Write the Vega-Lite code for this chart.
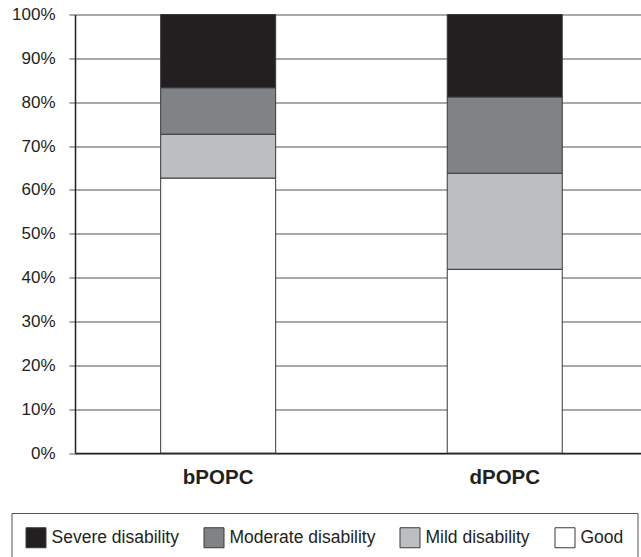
{
  "$schema": "https://vega.github.io/schema/vega-lite/v6.json",
  "autosize": {"type": "none"},
  "padding": {"left": 75, "top": 14.5, "right": 0, "bottom": 104},
  "width": 566,
  "height": 438.5,
  "background": "white",
  "config": {
    "view": {"stroke": null},
    "font": "Liberation Sans"
  },
  "data": {
    "values": [
      {"group": "bPOPC", "outcome": "Good", "percent": 62.7},
      {"group": "bPOPC", "outcome": "Mild disability", "percent": 10.0},
      {"group": "bPOPC", "outcome": "Moderate disability", "percent": 10.6},
      {"group": "bPOPC", "outcome": "Severe disability", "percent": 16.7},
      {"group": "dPOPC", "outcome": "Good", "percent": 41.9},
      {"group": "dPOPC", "outcome": "Mild disability", "percent": 21.9},
      {"group": "dPOPC", "outcome": "Moderate disability", "percent": 17.4},
      {"group": "dPOPC", "outcome": "Severe disability", "percent": 18.8}
    ]
  },
  "mark": {"type": "bar", "stroke": "#3a3a3a", "strokeWidth": 1},
  "encoding": {
    "x": {
      "field": "group",
      "type": "nominal",
      "title": null,
      "scale": {"paddingInner": 0.5987, "paddingOuter": 0.2868, "align": 0.521},
      "axis": {
        "labelAngle": 0,
        "ticks": false,
        "labelPadding": 14,
        "labelFont": "Liberation Sans",
        "labelFontSize": 20.5,
        "labelFontWeight": "bold",
        "labelColor": "#231f20",
        "domainColor": "#231f20",
        "domainWidth": 1.5
      }
    },
    "y": {
      "field": "percent",
      "type": "quantitative",
      "stack": "zero",
      "title": null,
      "scale": {"domain": [0, 100], "nice": false},
      "axis": {
        "values": [0, 10, 20, 30, 40, 50, 60, 70, 80, 90, 100],
        "labelExpr": "datum.value + '%'",
        "labelFont": "Liberation Sans",
        "labelFontSize": 17,
        "labelColor": "#231f20",
        "labelPadding": 14,
        "tickSize": 6,
        "tickColor": "#555555",
        "tickWidth": 1,
        "grid": true,
        "gridColor": "#555555",
        "gridWidth": 1,
        "gridOpacity": 1,
        "domainColor": "#231f20",
        "domainWidth": 1.5
      }
    },
    "order": {"field": "outcome", "sort": "ascending"},
    "color": {
      "field": "outcome",
      "type": "nominal",
      "scale": {
        "domain": ["Severe disability", "Moderate disability", "Mild disability", "Good"],
        "range": ["#231f20", "#808285", "#bcbec0", "#ffffff"]
      },
      "legend": {
        "title": null,
        "orient": "none",
        "direction": "horizontal",
        "legendX": -63.5,
        "legendY": 498.5,
        "padding": 14,
        "strokeColor": "#555555",
        "fillColor": "white",
        "symbolType": "square",
        "symbolSize": 400,
        "symbolStrokeColor": "#3a3a3a",
        "symbolStrokeWidth": 1,
        "symbolOpacity": 1,
        "labelFont": "Liberation Sans",
        "labelFontSize": 17.5,
        "labelColor": "#231f20",
        "labelOffset": 5,
        "columnPadding": 22,
        "labelLimit": 300
      }
    }
  }
}
